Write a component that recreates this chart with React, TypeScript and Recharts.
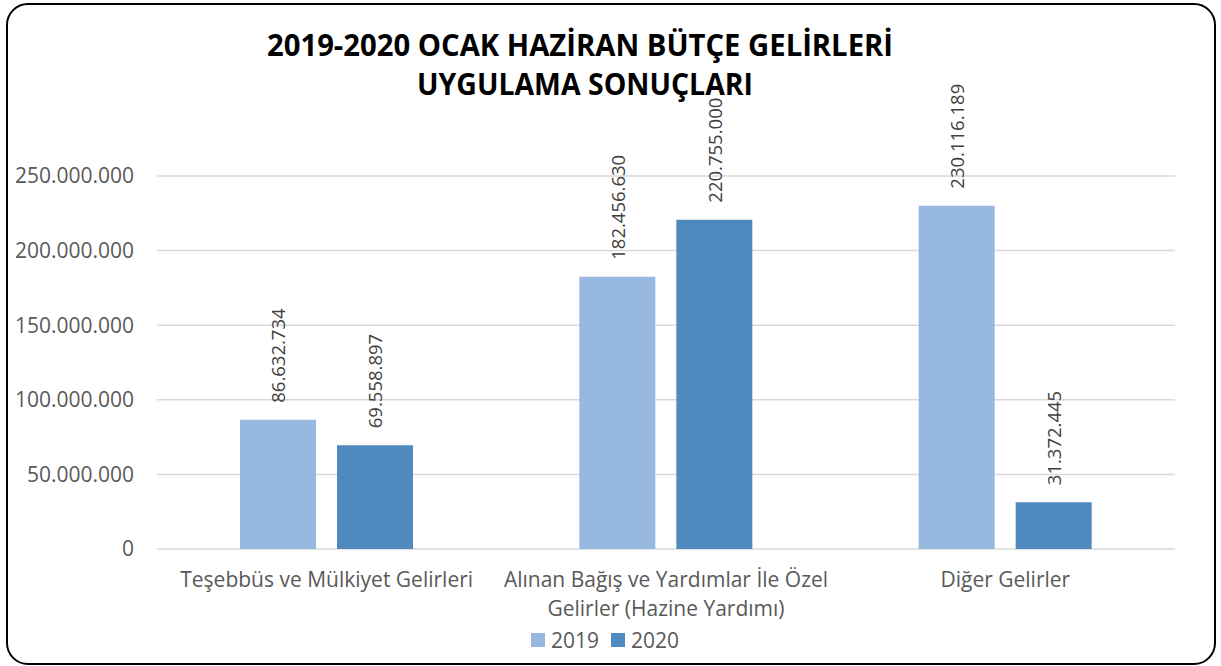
import React from 'react';
import { BarChart, Bar, XAxis, YAxis, CartesianGrid, LabelList, Legend } from 'recharts';

const categories = [
  'Teşebbüs ve Mülkiyet Gelirleri',
  'Alınan Bağış ve Yardımlar İle Özel\nGelirler (Hazine Yardımı)',
  'Diğer Gelirler',
];
const values2019 = [86632734, 182456630, 230116189];
const values2020 = [69558897, 220755000, 31372445];
const yTicks = [0, 50000000, 100000000, 150000000, 200000000, 250000000];
const seriesNames = ['2019', '2020'];
const titleLines = ['2019-2020 OCAK HAZİRAN BÜTÇE GELİRLERİ', 'UYGULAMA SONUÇLARI'];

const colors = ['#97B9DF', '#4F89BD'];
const FONT = "'Open Sans', 'Noto Sans', sans-serif";

const data = categories.map((c, i) => ({
  name: c,
  y2019: values2019[i],
  y2020: values2020[i],
}));

const fmt = (v: number) =>
  Math.round(v)
    .toString()
    .replace(/\B(?=(\d{3})+(?!\d))/g, '.');

const XTick = (props: any) => {
  const { x, y, payload } = props;
  const lines = String(payload.value).split('\n');
  return (
    <text x={x} y={y} textAnchor="middle" fontSize={21} fontFamily={FONT} fill="#595959">
      {lines.map((l, i) => (
        <tspan key={i} x={x} dy={i === 0 ? 15 : 29}>
          {l}
        </tspan>
      ))}
    </text>
  );
};

const BarLabel = (props: any) => {
  const { x, y, width, value } = props;
  const cx = Number(x) + Number(width) / 2;
  const ly = Number(y) - 17;
  return (
    <text
      x={cx}
      y={ly}
      transform={`rotate(-90, ${cx}, ${ly})`}
      textAnchor="start"
      dominantBaseline="central"
      fontSize={18.5}
      fontFamily={FONT}
      fill="#404040"
    >
      {fmt(Number(value))}
    </text>
  );
};

const LegendContent = () => (
  <div
    style={{
      display: 'flex',
      justifyContent: 'center',
      alignItems: 'center',
      fontFamily: FONT,
      fontSize: 21,
      color: '#595959',
      paddingRight: 11,
    }}
  >
    {seriesNames.map((s, i) => (
      <div key={s} style={{ display: 'flex', alignItems: 'center', marginRight: i === 0 ? 12 : 0 }}>
        <span style={{ width: 14, height: 14, background: colors[i], display: 'inline-block', marginRight: 6 }} />
        <span>{s}</span>
      </div>
    ))}
  </div>
);

export default function App() {
  return (
    <div style={{ position: 'absolute', left: 0, top: 0, width: 1221, height: 666, background: '#fff', overflow: 'hidden' }}>
      <BarChart
        width={1221}
        height={666}
        data={data}
        margin={{ top: 176, right: 46, bottom: 0, left: 0 }}
        barCategoryGap={83}
        barGap={21}
      >
        <CartesianGrid vertical={false} stroke="#D9D9D9" strokeWidth={1.5} />
        <XAxis
          dataKey="name"
          height={117}
          axisLine={false}
          tickLine={false}
          tickSize={0}
          tickMargin={23}
          tick={<XTick />}
          interval={0}
        />
        <YAxis
          width={157}
          domain={[0, 250000000]}
          ticks={yTicks}
          axisLine={false}
          tickLine={false}
          tickSize={0}
          tickMargin={23}
          tickFormatter={fmt}
          tick={{ fontSize: 21, fontFamily: FONT, fill: '#595959' }}
        />
        <Legend
          layout="horizontal"
          verticalAlign="middle"
          align="center"
          wrapperStyle={{ top: 626, left: 0, width: 1221 }}
          content={<LegendContent />}
        />
        <Bar dataKey="y2019" name={seriesNames[0]} fill={colors[0]} isAnimationActive={false}>
          <LabelList dataKey="y2019" content={<BarLabel />} />
        </Bar>
        <Bar dataKey="y2020" name={seriesNames[1]} fill={colors[1]} isAnimationActive={false}>
          <LabelList dataKey="y2020" content={<BarLabel />} />
        </Bar>
      </BarChart>
      <svg
        width={1221}
        height={666}
        style={{ position: 'absolute', left: 0, top: 0, pointerEvents: 'none' }}
      >
        <text
          x={580}
          y={56}
          textAnchor="middle"
          fontSize={31}
          fontWeight="bold"
          fontFamily={FONT}
          fill="#000"
          textLength={626}
          lengthAdjust="spacingAndGlyphs"
        >
          {titleLines[0]}
        </text>
        <text
          x={585}
          y={95}
          textAnchor="middle"
          fontSize={31}
          fontWeight="bold"
          fontFamily={FONT}
          fill="#000"
          textLength={336}
          lengthAdjust="spacingAndGlyphs"
        >
          {titleLines[1]}
        </text>
      </svg>
      <div
        style={{
          position: 'absolute',
          left: 6,
          top: 3,
          width: 1210,
          height: 662,
          border: '2px solid #000',
          borderRadius: 22,
          boxSizing: 'border-box',
          pointerEvents: 'none',
        }}
      />
    </div>
  );
}
